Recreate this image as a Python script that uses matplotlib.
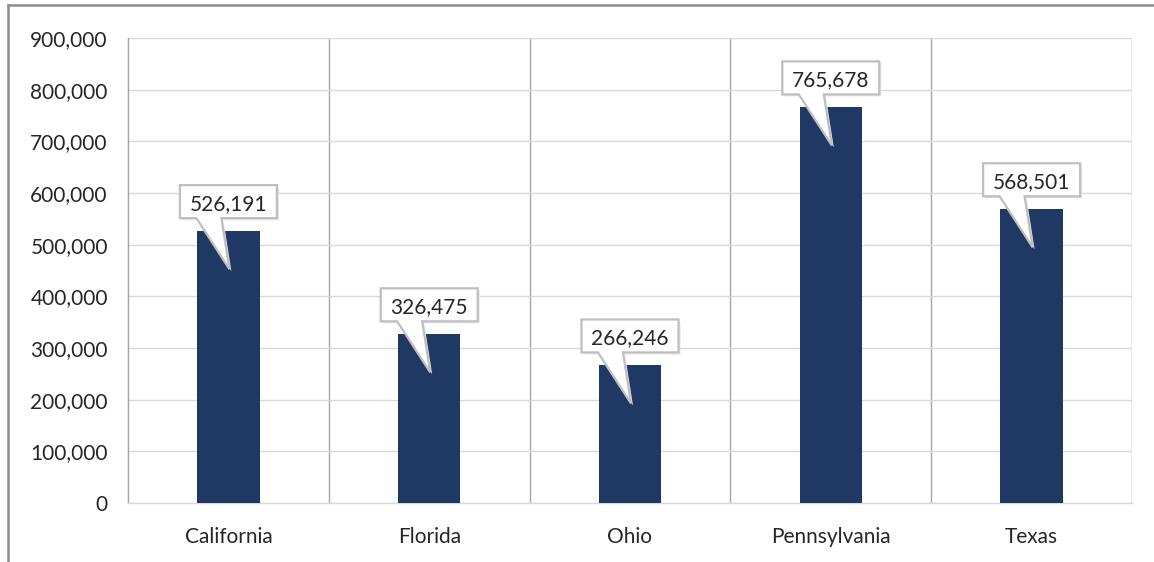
import matplotlib
matplotlib.use("Agg")
import matplotlib.pyplot as plt
import matplotlib.transforms as mtransforms
from matplotlib.patches import Polygon
from matplotlib.lines import Line2D
from matplotlib.ticker import FuncFormatter, MultipleLocator

categories = ["California", "Florida", "Ohio", "Pennsylvania", "Texas"]
values = [526191, 326475, 266246, 765678, 568501]

W, H = 1154, 562
fig = plt.figure(figsize=(W / 100, H / 100), dpi=100)
plt.rcParams['font.family'] = ['Lato', 'DejaVu Sans']

L, R, T, B = 128, 1132, 38, 503
ax = fig.add_axes([L / W, (H - B) / H, (R - L) / W, (B - T) / H])

x = list(range(len(categories)))
ax.bar(x, values, width=0.31, color="#203864", zorder=3)
ax.set_xlim(-0.5, len(categories) - 0.5)
ax.set_ylim(0, 900000)
ax.yaxis.set_major_locator(MultipleLocator(100000))
ax.yaxis.set_major_formatter(FuncFormatter(lambda v, p: f"{int(v):,}"))
ax.set_xticks(x)
ax.set_xticklabels(categories)
ax.tick_params(axis="both", length=0, labelsize=15)
ax.tick_params(axis="y", pad=14.5)
ax.tick_params(axis="x", pad=17)
for lab in ax.get_xticklabels() + ax.get_yticklabels():
    lab.set_color("#262626")

ax.grid(axis="y", color="#d9d9d9", linewidth=1, zorder=0)
for s in ["top", "right"]:
    ax.spines[s].set_visible(False)
ax.spines["bottom"].set_color("#d9d9d9")
ax.spines["left"].set_color("#a6a6a6")
ax.spines["bottom"].set_linewidth(1)
ax.spines["left"].set_linewidth(1)
for k in range(1, len(categories) + 1):
    ax.axvline(k - 0.5, color="#a6a6a6", linewidth=1, zorder=1)

# callouts (pixel offsets relative to bar top centre)
bw, bh = 97, 33
gap = 13
for xi, v in zip(x, values):
    base = mtransforms.ScaledTranslation(xi, v, ax.transData)
    tr = mtransforms.Affine2D() + base
    top = gap + bh
    bot = gap
    lft = -bw / 2
    rgt = bw / 2
    verts = [(lft, bot), (lft, top), (rgt, top), (rgt, bot),
             (-7, bot), (1, -38), (-32, bot)]
    shadow = Polygon([(px + 2, py - 2) for px, py in verts], closed=True,
                     transform=tr, facecolor="#e6e6e6", edgecolor="none",
                     zorder=4, clip_on=False)
    fig.add_artist(shadow)
    poly = Polygon(verts, closed=True, transform=tr, facecolor="white",
                   edgecolor="#bfbfbf", linewidth=1.6, zorder=5,
                   clip_on=False, joinstyle="miter")
    fig.add_artist(poly)
    fig.text(0, 0, f"{v:,}", transform=mtransforms.Affine2D().translate(0, gap + bh / 2) + base,
             ha="center", va="center_baseline", fontsize=15, color="#262626", zorder=6)

# figure border (top and left visible)
fig.add_artist(Line2D([8 / W, 1], [1 - 5 / H, 1 - 5 / H], transform=fig.transFigure,
                      color="#8c8c8c", linewidth=1.8))
fig.add_artist(Line2D([8 / W, 8 / W], [0, 1 - 5 / H], transform=fig.transFigure,
                      color="#8c8c8c", linewidth=1.8))

fig.savefig("out.png", dpi=100)
